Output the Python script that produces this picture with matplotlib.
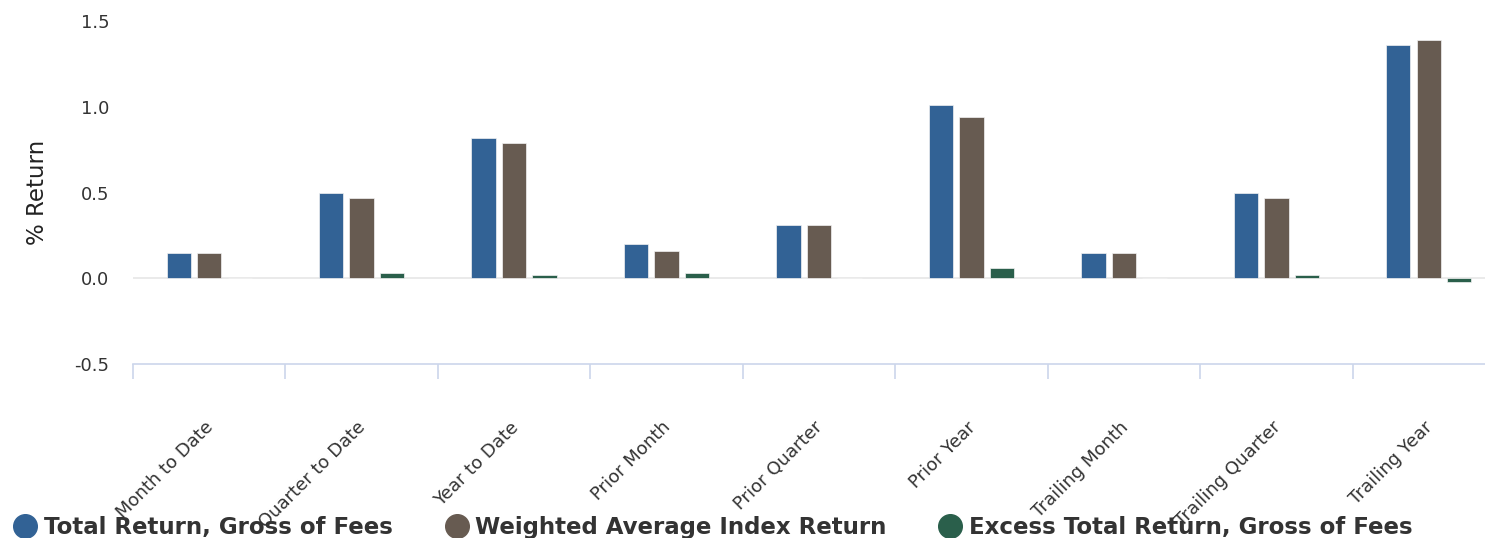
import numpy as np
from matplotlib import pyplot as plt
from matplotlib.lines import Line2D
from matplotlib.transforms import ScaledTranslation

# data
categories = ["Month to Date", "Quarter to Date", "Year to Date", "Prior Month",
              "Prior Quarter", "Prior Year", "Trailing Month", "Trailing Quarter",
              "Trailing Year"]
total_return = [0.15, 0.50, 0.82, 0.20, 0.31, 1.01, 0.15, 0.50, 1.36]
index_return = [0.15, 0.47, 0.79, 0.16, 0.31, 0.94, 0.15, 0.47, 1.39]
excess_return = [0.00, 0.03, 0.02, 0.03, 0.00, 0.06, 0.00, 0.02, -0.02]

series_names = ["Total Return, Gross of Fees", "Weighted Average Index Return",
                "Excess Total Return, Gross of Fees"]
colors = ["#326295", "#675b51", "#2a5f4b"]

plt.rcParams['font.family'] = ['DejaVu Sans']

fig = plt.figure(figsize=(14.85, 5.38), dpi=100)
# plot area runs a little past the right edge, like the source
ax = fig.add_axes([133 / 1485, 1 - 364 / 538, 1372 / 1485, 343 / 538])

x = np.arange(len(categories))
width = 0.16
for i, (vals, c) in enumerate(zip([total_return, index_return, excess_return], colors)):
    ax.bar(x + (i - 1) * 0.2, vals, width, color=c, edgecolor="#f2f2f2",
           linewidth=0.5, zorder=3)

ax.axhline(0, color="#e6e6e6", linewidth=1.2, zorder=1)

ax.set_xlim(-0.5, len(categories) - 0.5)
ax.set_ylim(-0.5, 1.5)
ax.set_yticks([-0.5, 0.0, 0.5, 1.0, 1.5])
ax.set_yticklabels(["-0.5", "0.0", "0.5", "1.0", "1.5"])
ax.tick_params(axis="y", length=0, pad=17, labelsize=13, labelcolor="#333333")
ax.set_ylabel("% Return", fontsize=16.5, color="#222222", labelpad=18)

# tick marks at the category edges, labels at the centres
ax.set_xticks(np.arange(len(categories) + 1) - 0.5)
ax.set_xticklabels([])
ax.tick_params(axis="x", which="major", length=11, color="#ccd6eb", width=1.2)
ax.set_xticks(x, minor=True)
ax.set_xticklabels(categories, minor=True, rotation=45, ha="right",
                   rotation_mode="anchor", fontsize=13, color="#333333")
ax.tick_params(axis="x", which="minor", length=0, pad=39)
shift = ScaledTranslation(-5 / 100, 0, fig.dpi_scale_trans)
for lab in ax.get_xticklabels(minor=True):
    lab.set_transform(lab.get_transform() + shift)

for s in ["top", "right", "left"]:
    ax.spines[s].set_visible(False)
ax.spines["bottom"].set_color("#ccd6eb")
ax.spines["bottom"].set_linewidth(1.2)

handles = [Line2D([], [], marker="o", linestyle="", markersize=17, color=c)
           for c in colors]
leg = fig.legend(handles, series_names, loc="lower left", bbox_to_anchor=(-0.0085, -0.04),
                 ncol=3, frameon=False, handletextpad=0.05, columnspacing=2.05,
                 handlelength=1.5, prop={"weight": "bold", "size": 16.5})
for t in leg.get_texts():
    t.set_color("#333333")

plt.savefig("out.png", dpi=100)
